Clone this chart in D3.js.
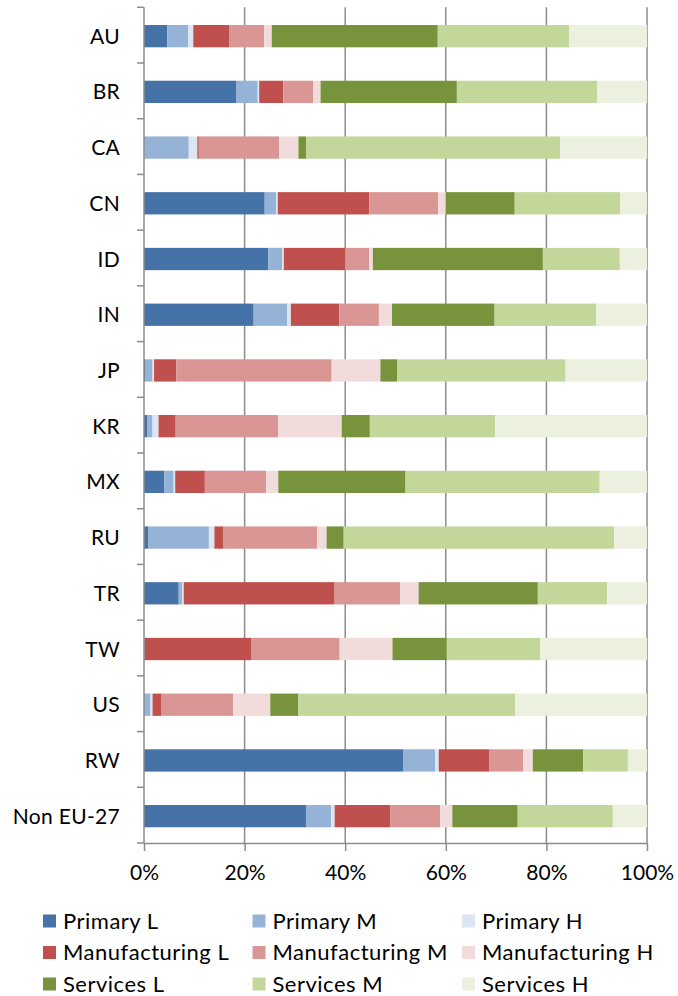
<!DOCTYPE html>
<html>
<head>
<meta charset="utf-8">
<script src="https://cdn.jsdelivr.net/npm/d3@7"></script>
<style>
  body { margin: 0; background: #fff; }
  text { font-family: Lato, 'Open Sans', sans-serif; fill: #000; }
  .axis path, .axis line { stroke: #8c8c8c; stroke-width: 1.5; }
</style>
</head>
<body>
<div id="chart"></div>
<script>
const categories = ['AU', 'BR', 'CA', 'CN', 'ID', 'IN', 'JP', 'KR', 'MX', 'RU', 'TR', 'TW', 'US', 'RW', 'Non EU-27']
const seriesNames = ['Primary L', 'Primary M', 'Primary H', 'Manufacturing L', 'Manufacturing M', 'Manufacturing H', 'Services L', 'Services M', 'Services H']
const seriesColors = ['#4572a7', '#95b3d7', '#dce6f2', '#c0504d', '#da9694', '#f2dcdb', '#77933c', '#c4d79b', '#ebf1de']

// shares in % per category, same order as categories
const primaryL = [4.6, 18.4, 0.1, 24.0, 24.7, 21.8, 0.2, 0.6, 4.0, 0.9, 6.9, 0.1, 0.1, 51.6, 32.2]
const primaryM = [4.2, 4.2, 8.8, 2.3, 2.8, 6.7, 1.5, 1.1, 1.9, 12.0, 0.7, 0.0, 1.2, 6.3, 5.0]
const primaryH = [1.0, 0.3, 1.7, 0.3, 0.3, 0.7, 0.3, 1.2, 0.3, 1.1, 0.3, 0.0, 0.4, 0.7, 0.7]
const manufL = [7.1, 4.8, 0.3, 18.2, 12.2, 9.6, 4.4, 3.4, 5.9, 1.7, 30.0, 21.3, 1.8, 10.1, 11.1]
const manufM = [7.0, 5.9, 16.0, 13.7, 4.8, 7.9, 30.9, 20.4, 12.2, 18.7, 13.0, 17.5, 14.2, 6.7, 9.9]
const manufH = [1.5, 1.5, 3.8, 1.5, 0.7, 2.6, 9.7, 12.6, 2.4, 1.9, 3.7, 10.5, 7.4, 1.9, 2.4]
const servL = [33.0, 27.1, 1.5, 13.7, 33.8, 20.4, 3.3, 5.6, 25.3, 3.4, 23.7, 10.8, 5.6, 10.0, 13.0]
const servM = [26.1, 27.9, 50.5, 21.0, 15.3, 20.2, 33.5, 24.9, 38.6, 53.8, 13.8, 18.6, 43.1, 8.9, 18.9]
const servH = [15.5, 9.9, 17.3, 5.3, 5.4, 10.1, 16.2, 30.2, 9.4, 6.5, 7.9, 21.2, 26.2, 3.8, 6.8]

const xTicks = [0, 0.2, 0.4, 0.6, 0.8, 1]

const seriesValues = [primaryL, primaryM, primaryH, manufL, manufM, manufH, servL, servM, servH]

const table = categories.map((c, i) => {
  const row = {name: c}
  seriesNames.forEach((s, j) => { row[s] = seriesValues[j][i] })
  return row
})

const W = 678, H = 996
const plot = {left: 144, right: 647, top: 7.3, bottom: 843}

const svg = d3.select('#chart').append('svg')
  .attr('width', W)
  .attr('height', H)

const x = d3.scaleLinear().domain([0, 1]).range([plot.left, plot.right])
const y = d3.scaleBand().domain(categories).range([plot.top, plot.bottom])
  .paddingInner(0.6).paddingOuter(0.3)

// gridlines
svg.append('g')
  .selectAll('line')
  .data(xTicks.slice(1))
  .join('line')
  .attr('x1', d => x(d)).attr('x2', d => x(d))
  .attr('y1', plot.top).attr('y2', plot.bottom)
  .attr('stroke', '#8c8c8c')
  .attr('stroke-width', 1.5)

const stack = d3.stack().keys(seriesNames).offset(d3.stackOffsetExpand)
const layers = stack(table)

svg.append('g')
  .selectAll('g')
  .data(layers)
  .join('g')
  .attr('fill', (d, i) => seriesColors[i])
  .selectAll('rect')
  .data(d => d)
  .join('rect')
  .attr('x', d => x(d[0]))
  .attr('width', d => Math.max(0, x(d[1]) - x(d[0])))
  .attr('y', d => y(d.data.name) + 1)
  .attr('height', y.bandwidth())

// y axis
const yAxis = svg.append('g').attr('class', 'axis')
yAxis.append('line')
  .attr('x1', plot.left).attr('x2', plot.left)
  .attr('y1', plot.top).attr('y2', plot.bottom)
const yBounds = d3.range(categories.length + 1).map(i => plot.top + i * (plot.bottom - plot.top) / categories.length)
yAxis.selectAll('.tk')
  .data(yBounds)
  .join('line')
  .attr('class', 'tk')
  .attr('x1', plot.left - 7).attr('x2', plot.left)
  .attr('y1', d => d).attr('y2', d => d)
yAxis.selectAll('text')
  .data(categories)
  .join('text')
  .attr('x', 120)
  .attr('y', d => y(d) + y.bandwidth() / 2 + 1)
  .attr('dy', '0.36em')
  .attr('text-anchor', 'end')
  .attr('font-size', 21)
  .attr('letter-spacing', 0.3)
  .text(d => d)

// x axis
const xAxis = svg.append('g')
  .attr('class', 'axis')
  .attr('transform', `translate(0,${plot.bottom})`)
  .call(d3.axisBottom(x).tickValues(xTicks).tickFormat(d3.format('.0%')).tickSize(8).tickPadding(14).tickSizeOuter(0))
xAxis.selectAll('text').attr('font-size', 21).attr('font-family', "Lato, 'Open Sans', sans-serif").attr('fill', '#000')

// legend
const legend = svg.append('g')
seriesNames.forEach((s, i) => {
  const col = i % 3, row = Math.floor(i / 3)
  const g = legend.append('g').attr('transform', `translate(${43 + col * 209.5},${921 + row * 31.5})`)
  g.append('rect').attr('x', 0).attr('y', -6.5).attr('width', 13).attr('height', 13).attr('fill', seriesColors[i])
  g.append('text').attr('x', 20).attr('y', 0).attr('dy', '0.36em')
    .attr('font-size', 22).attr('letter-spacing', 0.5).text(s)
})
</script>
</body>
</html>
